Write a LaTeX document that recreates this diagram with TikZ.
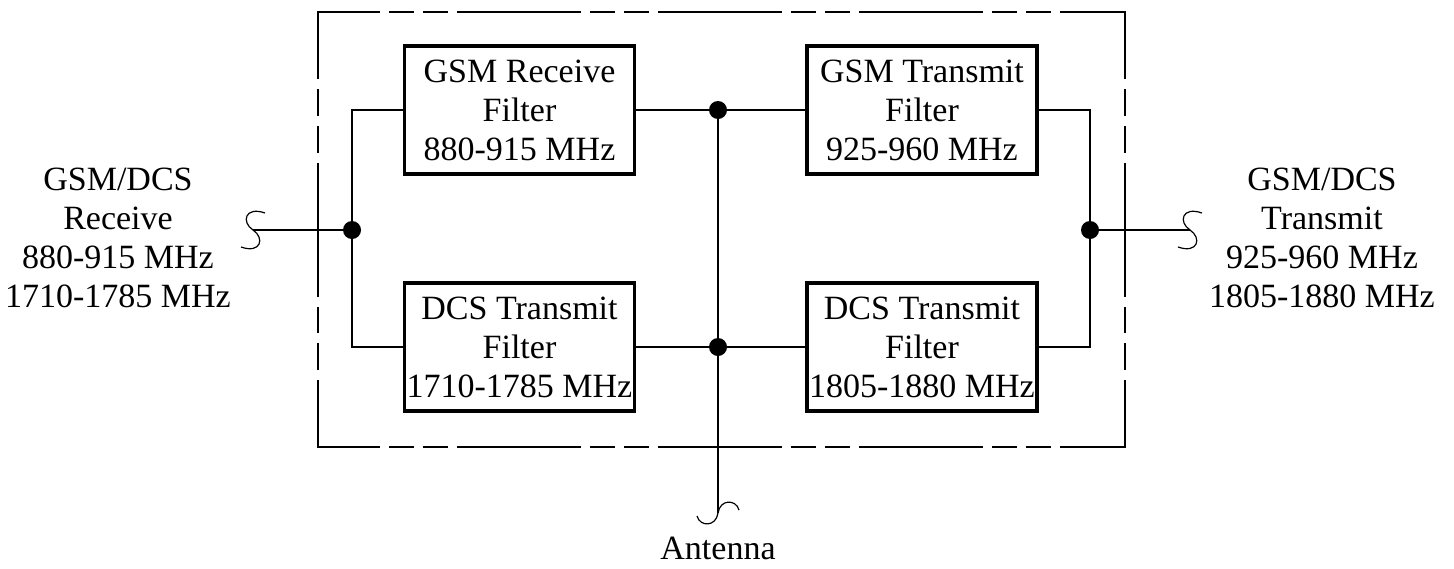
\documentclass[tikz,border=0pt]{standalone}
\usepackage{fontspec}
\setmainfont{Liberation Serif}

\begin{document}
\begin{tikzpicture}[x=0.5pt,y=0.5pt,yscale=-1,
  filt/.style={draw,line width=1.8pt,minimum width=115pt,minimum height=64pt,inner sep=0pt,align=center,font=\fontsize{17}{19.5}\selectfont},
  lbl/.style={align=center,inner sep=0pt,font=\fontsize{17}{19.5}\selectfont},
  wire/.style={line width=1pt},
  jdot/.style={circle,fill,inner sep=0pt,minimum size=9pt},
  edgeh/.style={line width=1pt,line cap=rect,dash pattern=on 61pt off 5.5pt on 11.5pt off 5.5pt on 11.5pt off 5.5pt,dash phase=30.5pt},
  edgev/.style={line width=1pt,line cap=rect,dash pattern=on 66pt off 6pt on 12.4pt off 6pt on 12.4pt off 6pt,dash phase=33pt},
  squig/.pic={\draw[line width=0.6pt] (0,0) .. controls (-12,8) and (-8,24) .. (12,17)
     (0,0) .. controls (12,-8) and (8,-24) .. (-12,-17);},
  antsquig/.pic={\draw[line width=0.6pt] (0,0) .. controls (2,14) and (18,14) .. (21,3)
     (0,0) .. controls (-2,-14) and (-18,-14) .. (-21,-3);}]
\useasboundingbox (0,0) rectangle (1454,568);

%Dashed frame
\draw[edgeh] (318,12) -- (1125,12);
\draw[edgeh] (318,447) -- (1125,447);
\draw[edgev] (318,12) -- (318,447);
\draw[edgev] (1125,12) -- (1125,447);

%Filter boxes
\node[filt] (gsmrx) at (519.5,110) {GSM Receive\\Filter\\880-915 MHz};
\node[filt] (dcstxl) at (519.5,347) {DCS Transmit\\Filter\\1710-1785 MHz};
\node[filt] (gsmtx) at (922,110) {GSM Transmit\\Filter\\925-960 MHz};
\node[filt] (dcstxr) at (922,347) {DCS Transmit\\Filter\\1805-1880 MHz};

%Ports
\coordinate (rxin) at (253,230);
\coordinate (txout) at (1190,230);
\coordinate (antin) at (720,513);

%Junctions
\node[jdot] (jl) at (352,230) {};
\node[jdot] (jr) at (1090,230) {};
\node[jdot] (jtop) at (718,110) {};
\node[jdot] (jbot) at (718,347) {};

%Wires
\draw[wire] (rxin) -- (jl.center);
\draw[wire] (gsmrx.west) -| (jl.center) |- (dcstxl.west);
\draw[wire] (gsmrx.east) -- (jtop.center) -- (gsmtx.west);
\draw[wire] (dcstxl.east) -- (jbot.center) -- (dcstxr.west);
\draw[wire] (jtop.center) -- (jtop.center |- antin);
\draw[wire] (gsmtx.east) -| (jr.center) |- (dcstxr.east);
\draw[wire] (jr.center) -- (txout);

%Line ends
\pic at (rxin) {squig};
\pic at (txout) {squig};
\pic at (jtop.center |- antin) {antsquig};

% Text Node
\node[lbl] (rxlbl) at (118,238) {GSM/DCS\\Receive\\880-915 MHz\\1710-1785 MHz};
% Text Node
\node[lbl] (txlbl) at (1322,238) {GSM/DCS\\Transmit\\925-960 MHz\\1805-1880 MHz};
% Text Node
\node[lbl] (antlbl) at (718,548) {Antenna};

\end{tikzpicture}
\end{document}
